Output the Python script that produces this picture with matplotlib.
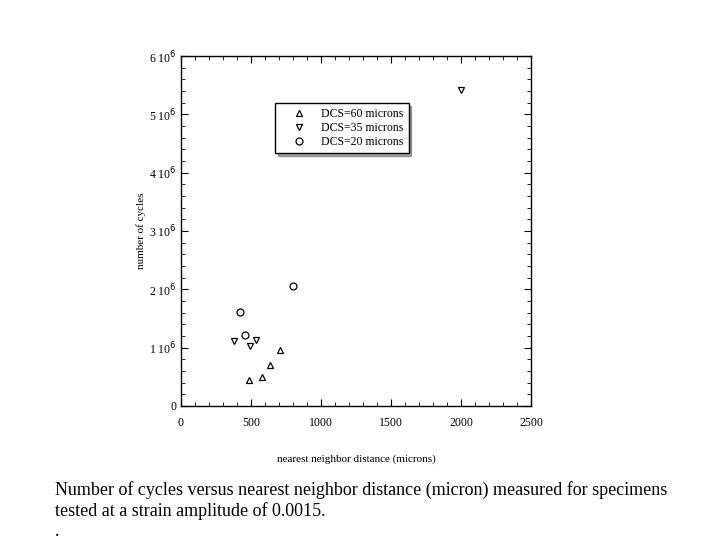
import matplotlib
matplotlib.use('Agg')
import matplotlib.pyplot as plt
import numpy as np
from matplotlib.ticker import MultipleLocator, FuncFormatter

plt.rcParams['font.family'] = ['Liberation Serif', 'DejaVu Serif']

# DCS = 60 microns
x60 = [488, 579, 636, 705]
y60 = [0.45e6, 0.50e6, 0.71e6, 0.955e6]
# DCS = 35 microns
x35 = [379, 493, 534, 2000]
y35 = [1.11e6, 1.03e6, 1.14e6, 5.42e6]
# DCS = 20 microns
x20 = [424, 455, 798]
y20 = [1.61e6, 1.22e6, 2.06e6]

fig = plt.figure(figsize=(7.19, 5.39), dpi=100)
ax = fig.add_axes([181/719, 1-406/539, 350/719, 350/539])

ms = 5
ax.plot(x60, y60, '^', mfc='none', mec='k', mew=0.9, ms=ms, ls='none', label='DCS=60 microns')
ax.plot(x35, y35, 'v', mfc='none', mec='k', mew=0.9, ms=ms, ls='none', label='DCS=35 microns')
ax.plot(x20, y20, 'o', mfc='none', mec='k', mew=0.9, ms=ms, ls='none', label='DCS=20 microns')

ax.set_xlim(0, 2500)
ax.set_ylim(0, 6e6)
ax.xaxis.set_major_locator(MultipleLocator(500))
ax.xaxis.set_minor_locator(MultipleLocator(100))
ax.yaxis.set_major_locator(MultipleLocator(1e6))
ax.yaxis.set_minor_locator(MultipleLocator(0.2e6))

def yfmt(v, pos):
    n = int(round(v / 1e6))
    if n == 0:
        return '0'
    return r'%d 10$^{6}$' % n

ax.yaxis.set_major_formatter(FuncFormatter(yfmt))
ax.tick_params(which='both', direction='in', top=True, right=True, labelsize=8.5)
ax.tick_params(which='major', length=5, width=0.8)
ax.tick_params(which='minor', length=3, width=0.6)
ax.tick_params(axis='x', pad=8)
for s in ax.spines.values():
    s.set_linewidth(1.0)

ax.set_xlabel('nearest neighbor distance (microns)', fontsize=8, labelpad=18)
ax.set_ylabel('number of cycles', fontsize=8, labelpad=2)

leg = ax.legend(loc='upper left', bbox_to_anchor=(94/350, 303/350), fontsize=8.5,
                frameon=True, fancybox=False, shadow=True, edgecolor='k',
                borderaxespad=0, handletextpad=0.25, borderpad=0.45,
                labelspacing=0.15, handlelength=3.2)
leg.get_frame().set_linewidth(1.0)

fig.text(55/719, 1-481/539,
         'Number of cycles versus nearest neighbor distance (micron) measured for specimens\n'
         'tested at a strain amplitude of 0.0015.\n.',
         fontsize=13, va='top', ha='left', linespacing=1.22)

fig.savefig('out.png', dpi=100)
